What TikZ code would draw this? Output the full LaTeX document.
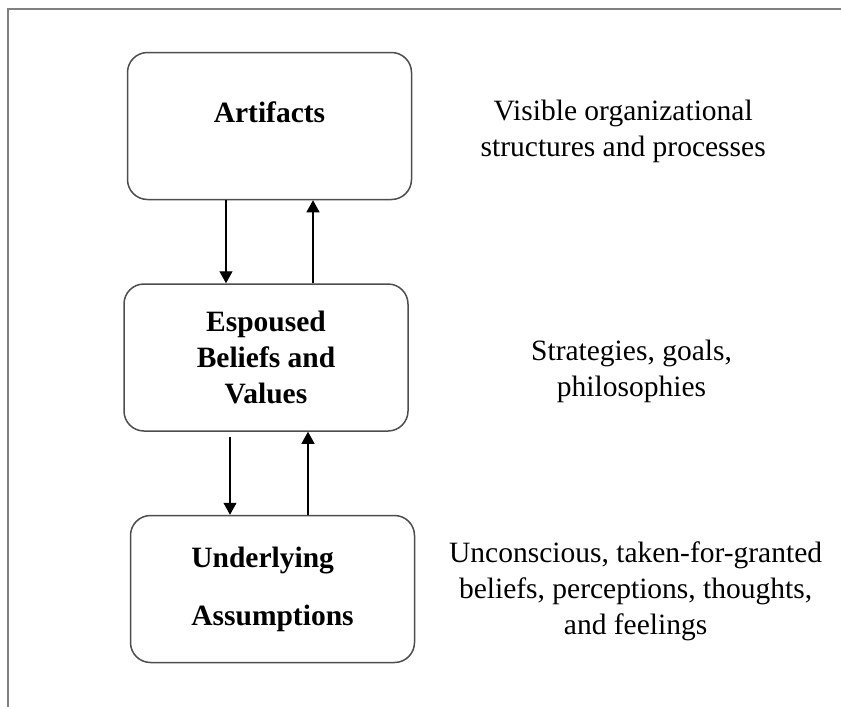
\documentclass[tikz,border=0pt]{standalone}
\usepackage{fontspec}
\setmainfont{Liberation Serif}
\usetikzlibrary{positioning,arrows.meta}
\definecolor{borde}{HTML}{4D4D4D}
\definecolor{marco}{HTML}{808080}

\begin{document}
\begin{tikzpicture}[font=\fontsize{14.75}{18}\selectfont, >={Triangle[length=6pt,width=6.5pt]},
      nivel/.style={draw=borde, rounded corners=10pt, line width=0.75pt, align=center,
                    minimum width=142pt, minimum height=73.5pt,
                    font=\fontsize{14.75}{18}\selectfont\bfseries},
      nota/.style={align=center, inner sep=0pt},
      flecha/.style={->, line width=0.6pt}]
    \useasboundingbox (0,0) rectangle (420.5pt,-353.5pt);
    \draw[marco, line width=1pt] (4pt,-353.5pt) |- (420.5pt,-4.5pt);
    % niveles de la cultura
    \node[nivel, text depth=14pt] (art) at (134.75pt,-63pt) {Artifacts};
    \node[nivel, below=41.5pt of art, xshift=-1.75pt] (esp) {Espoused\\Beliefs and\\Values};
    \node[nivel, align=left, below=41.5pt of esp, xshift=3.25pt] (und) {Underlying\\[11pt]Assumptions};
    % descripciones
    \node[nota, right=34pt of art, yshift=-2.75pt] (vis) {Visible organizational\\structures and processes};
    \node[nota, right=61pt of esp, yshift=-6.75pt] (estr) {Strategies, goals,\\philosophies};
    \node[nota, right=16.75pt of und, yshift=-1pt] (inc) {Unconscious, taken-for-granted\\beliefs, perceptions, thoughts,\\and feelings};
    % flechas
    \draw[flecha] ([xshift=-21.75pt]art.south) -- ([xshift=-21.75pt]art.south |- esp.north);
    \draw[flecha] ([xshift=21.75pt]art.south |- esp.north) -- ([xshift=21.75pt]art.south);
    \draw[flecha] ([xshift=-18pt,yshift=-2.5pt]esp.south) -- ([xshift=-18pt]esp.south |- und.north);
    \draw[flecha] ([xshift=21pt]esp.south |- und.north) -- ([xshift=21pt]esp.south);
  \end{tikzpicture}
\end{document}
